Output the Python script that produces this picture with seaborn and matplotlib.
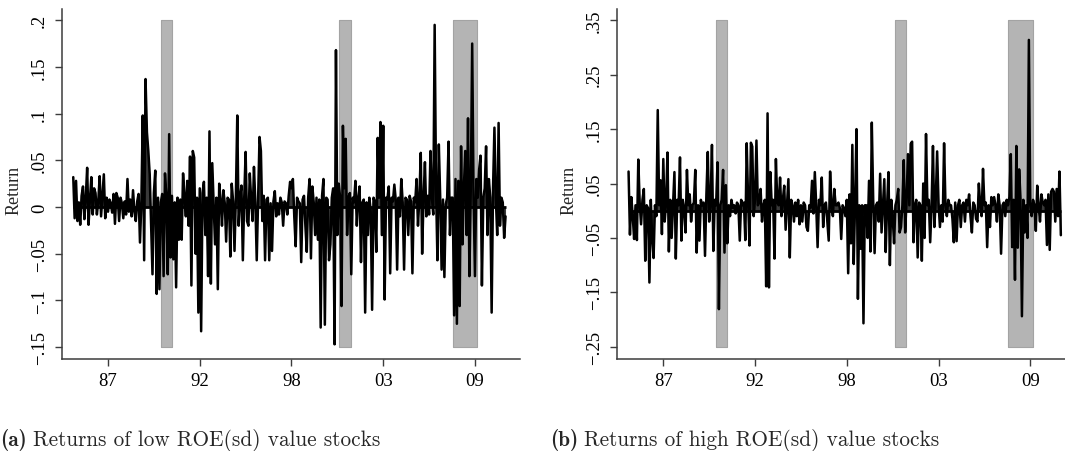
import matplotlib
matplotlib.use("Agg")
import matplotlib.pyplot as plt
import seaborn as sns
import pandas as pd

# ---------------- data (monthly returns) ----------------
low_roe_returns = [
    0.032, -0.012, 0.028, -0.015, 0.005, -0.019, 0.012, 0.022, -0.013, 0.010, 0.042, -0.019,
    0.008, 0.032, -0.008, 0.020, 0.015, -0.008, 0.006, 0.033, -0.010, 0.012, 0.035, -0.012,
    0.010, -0.005, 0.008, 0.004, -0.006, 0.014, -0.018, 0.015, 0.010, -0.015, 0.010, 0.004,
    -0.012, 0.006, -0.008, 0.030, -0.005, 0.008, -0.010, 0.018, -0.005, -0.015, 0.006, 0.014,
    -0.038, 0.005, 0.098, -0.057, 0.137, 0.080, 0.060, 0.035, -0.020, -0.072, 0.015, 0.039,
    -0.093, 0.010, -0.088, 0.005, 0.014, -0.074, 0.036, 0.010, -0.072, 0.078, -0.054, 0.012,
    -0.056, 0.005, -0.086, 0.010, -0.035, 0.008, -0.035, 0.036, 0.012, -0.010, 0.028, -0.020,
    0.054, -0.084, 0.060, 0.053, -0.050, 0.010, -0.113, 0.020, -0.133, 0.015, 0.027, -0.030,
    0.010, -0.074, 0.081, -0.082, 0.047, 0.005, -0.040, 0.010, -0.088, 0.025, 0.008, -0.020,
    0.018, 0.004, -0.037, 0.010, 0.008, -0.053, 0.025, 0.006, -0.047, 0.012, 0.098, -0.020,
    0.010, 0.023, -0.057, 0.010, 0.059, -0.015, -0.020, 0.036, 0.008, -0.015, 0.043, 0.005,
    -0.057, 0.010, 0.075, 0.060, -0.015, 0.012, -0.057, 0.008, 0.010, -0.057, 0.004, -0.047,
    0.006, 0.017, -0.010, 0.004, -0.008, 0.010, 0.005, -0.020, 0.006, 0.004, -0.008, 0.012,
    0.027, 0.020, 0.030, -0.010, -0.042, 0.010, 0.006, 0.004, -0.059, 0.008, 0.012, -0.020,
    -0.048, 0.010, 0.030, -0.055, 0.022, 0.005, -0.030, 0.010, -0.035, 0.008, -0.129, 0.012,
    0.030, -0.126, 0.010, 0.008, -0.057, -0.040, 0.010, 0.020, -0.147, 0.168, -0.030, 0.025,
    0.010, -0.106, 0.087, 0.020, 0.073, -0.030, 0.010, 0.015, -0.072, 0.010, 0.005, 0.028,
    -0.020, 0.010, 0.022, -0.059, 0.005, 0.008, -0.113, 0.005, -0.030, 0.010, -0.004, -0.110,
    0.010, 0.006, -0.048, 0.074, 0.010, 0.091, -0.030, 0.087, -0.099, 0.010, 0.008, 0.022,
    -0.071, 0.010, 0.006, 0.024, 0.008, -0.067, 0.010, -0.010, 0.030, 0.005, -0.067, 0.010,
    0.008, -0.030, 0.012, 0.006, -0.071, 0.010, 0.005, 0.030, -0.020, 0.010, 0.058, -0.050,
    0.010, 0.048, -0.010, 0.012, -0.008, 0.060, 0.010, -0.008, 0.195, 0.020, -0.057, 0.067,
    0.010, -0.067, 0.008, -0.075, 0.003, 0.010, 0.070, -0.030, 0.010, 0.010, -0.116, 0.030,
    -0.125, 0.028, -0.106, 0.065, -0.040, 0.020, 0.060, -0.030, 0.095, -0.074, 0.020, 0.175,
    0.010, -0.074, 0.030, 0.010, 0.040, 0.055, -0.084, 0.010, 0.020, 0.065, -0.030, 0.030,
    0.010, -0.113, 0.020, 0.085, 0.010, -0.030, 0.090, -0.020, 0.010, 0.005, -0.033, -0.010,
]

high_roe_returns = [
    0.072, -0.044, 0.025, -0.010, -0.052, 0.010, -0.054, 0.094, 0.015, -0.025, 0.020, 0.040,
    -0.092, 0.010, 0.005, -0.132, 0.020, -0.050, -0.087, 0.010, -0.010, 0.185, 0.010, 0.056,
    -0.043, 0.095, -0.020, 0.015, 0.107, -0.075, 0.020, -0.050, 0.010, 0.071, -0.088, 0.020,
    0.010, 0.098, -0.055, 0.020, 0.005, -0.040, 0.075, 0.010, 0.030, -0.020, 0.010, 0.015,
    0.075, -0.077, 0.010, -0.055, 0.020, 0.010, 0.015, -0.083, 0.030, 0.108, -0.020, 0.015,
    0.121, -0.074, 0.020, 0.010, 0.089, -0.181, 0.010, 0.020, 0.075, -0.077, 0.047, -0.060,
    0.010, -0.010, 0.020, 0.005, 0.010, -0.005, 0.015, 0.010, -0.055, 0.020, 0.010, 0.015,
    -0.054, 0.124, 0.020, -0.064, 0.125, 0.118, -0.010, 0.020, 0.129, 0.010, 0.015, 0.040,
    -0.020, 0.010, 0.020, -0.139, 0.179, -0.141, 0.071, 0.010, 0.020, -0.088, 0.095, 0.015,
    0.010, 0.061, -0.010, 0.020, 0.046, -0.035, 0.010, 0.058, -0.086, 0.020, 0.010, -0.020,
    0.015, -0.010, 0.020, -0.025, 0.010, -0.020, 0.015, 0.010, -0.030, -0.037, 0.010, 0.005,
    0.055, -0.005, 0.071, 0.010, -0.067, 0.020, 0.010, 0.061, -0.030, 0.010, 0.015, -0.020,
    -0.055, 0.072, 0.010, -0.010, 0.040, 0.010, 0.010, 0.015, 0.005, -0.052, 0.010, 0.005,
    -0.010, 0.020, -0.115, 0.030, -0.060, 0.121, -0.098, 0.020, 0.150, -0.162, 0.010, -0.070,
    0.010, -0.207, 0.010, 0.010, -0.050, 0.055, -0.075, 0.162, 0.020, -0.078, 0.010, 0.015,
    -0.020, 0.068, -0.040, 0.010, 0.058, -0.076, 0.010, 0.071, -0.100, 0.020, -0.010, -0.060,
    0.010, 0.020, 0.040, -0.040, -0.030, 0.010, 0.093, -0.040, 0.020, 0.104, 0.010, 0.123,
    0.127, -0.058, 0.010, 0.020, -0.086, 0.015, 0.010, -0.092, 0.050, -0.050, 0.141, 0.010,
    0.020, -0.058, 0.010, 0.119, -0.030, 0.020, 0.109, 0.015, -0.030, 0.010, -0.020, 0.124,
    0.010, -0.010, 0.020, 0.010, 0.010, -0.015, -0.058, 0.015, -0.056, 0.010, 0.020, -0.030,
    0.010, 0.015, -0.020, 0.020, 0.010, 0.030, -0.010, -0.040, 0.015, 0.010, -0.015, -0.020,
    0.050, 0.010, -0.010, 0.077, 0.010, 0.015, -0.067, 0.010, -0.030, 0.025, 0.010, 0.025,
    0.010, -0.020, 0.030, 0.010, -0.079, 0.010, 0.015, -0.010, 0.020, 0.010, 0.025, 0.104,
    -0.067, 0.020, -0.127, 0.119, -0.068, 0.076, 0.020, -0.194, 0.020, -0.040, 0.010, -0.050,
    0.314, 0.010, -0.010, 0.020, 0.010, -0.037, 0.046, 0.010, -0.020, 0.030, 0.015, 0.010,
    0.020, -0.063, 0.030, -0.072, 0.035, 0.040, 0.035, -0.020, 0.040, -0.010, 0.072, -0.045,
]

month_index = list(range(len(low_roe_returns)))

x_tick_positions = [25, 91, 157, 223, 289]
x_tick_labels = ["87", "92", "98", "03", "09"]

recession_start = [63.0, 191.4, 273.0]
recession_end = [71.0, 199.6, 290.7]

left_yticks = [0.2, 0.15, 0.1, 0.05, 0.0, -0.05, -0.1, -0.15]
left_yticklabels = [".2", ".15", ".1", ".05", "0", "\u2212.05", "\u2212.1", "\u2212.15"]
right_yticks = [0.35, 0.25, 0.15, 0.05, -0.05, -0.15, -0.25]
right_yticklabels = [".35", ".25", ".15", ".05", "\u2212.05", "\u2212.15", "\u2212.25"]

caption_tags = ["(a)", "(b)"]
caption_texts = ["Returns of low ROE(sd) value stocks",
                 "Returns of high ROE(sd) value stocks"]

# ---------------- style ----------------
sns.set_theme(style="white")
plt.rcParams["font.family"] = ["Liberation Serif", "DejaVu Serif"]

W, H = 1065, 452
fig = plt.figure(figsize=(W / 100, H / 100), dpi=100)


def px_axes(x0, y0, x1, y1):
    return fig.add_axes([x0 / W, 1 - y1 / H, (x1 - x0) / W, (y1 - y0) / H])


ax_left = px_axes(62, 10, 520, 360)
ax_right = px_axes(617.3, 10, 1075.3, 360)

panels = [
    (ax_left, low_roe_returns, left_yticks, left_yticklabels, (-0.1627, 0.212)),
    (ax_right, high_roe_returns, right_yticks, right_yticklabels, (-0.2726, 0.3708)),
]

for ax, series, yt, ytl, ylim in panels:
    df = pd.DataFrame({"month": month_index, "ret": series})
    top, bottom = max(yt), min(yt)
    for s, e in zip(recession_start, recession_end):
        ax.fill_between([s, e], bottom, top, color="#b4b4b4", edgecolor="#a3a3a3",
                        linewidth=0.8, zorder=1)
    ax.fill_between(df["month"], 0, df["ret"], color="#3a3a3a", linewidth=0, zorder=2)
    sns.lineplot(data=df, x="month", y="ret", ax=ax, color="black", linewidth=1.8,
                 zorder=3, estimator=None, sort=False)
    ax.plot([df["month"].iloc[0], df["month"].iloc[-1]], [0, 0], color="black",
            linewidth=2.0, zorder=4, solid_capstyle="butt")

    ax.set_xlim(-8.1, 321.4)
    ax.set_ylim(*ylim)
    ax.set_xticks(x_tick_positions)
    ax.set_xticklabels(x_tick_labels)
    ax.set_yticks(yt)
    ax.set_yticklabels(ytl)
    ax.set_xlabel("")
    ax.set_ylabel("Return", fontsize=13)
    ax.yaxis.set_label_coords(-0.086, 0.485)

    for side in ["top", "right"]:
        ax.spines[side].set_visible(False)
    for side in ["left", "bottom"]:
        ax.spines[side].set_color("#3c3c3c")
        ax.spines[side].set_linewidth(1.1)
    ax.tick_params(axis="both", direction="out", length=5.2, width=1.0, color="#3c3c3c",
                   labelsize=13.5, labelcolor="black", left=True, bottom=True)
    ax.tick_params(axis="y", pad=5)
    ax.tick_params(axis="x", pad=4)
    for lab in ax.get_yticklabels():
        lab.set_rotation(90)
        lab.set_va("center")
        lab.set_ha("right")
    ax.grid(False)
    ax.set_facecolor("white")

# captions: bold tag followed by regular text
fig.canvas.draw()
renderer = fig.canvas.get_renderer()
cap_y = (H - 445.7) / H
for x0, tag, txt in zip([0, 550], caption_tags, caption_texts):
    t = fig.text(x0 / W, cap_y, tag, family="cmb10", fontsize=15.3,
                 ha="left", va="baseline")
    wpx = t.get_window_extent(renderer=renderer).width
    fig.text((x0 + wpx + 6) / W, cap_y, txt, family="cmr10", fontsize=15.3,
             ha="left", va="baseline")

fig.savefig("out.png", dpi=100, facecolor="white")
